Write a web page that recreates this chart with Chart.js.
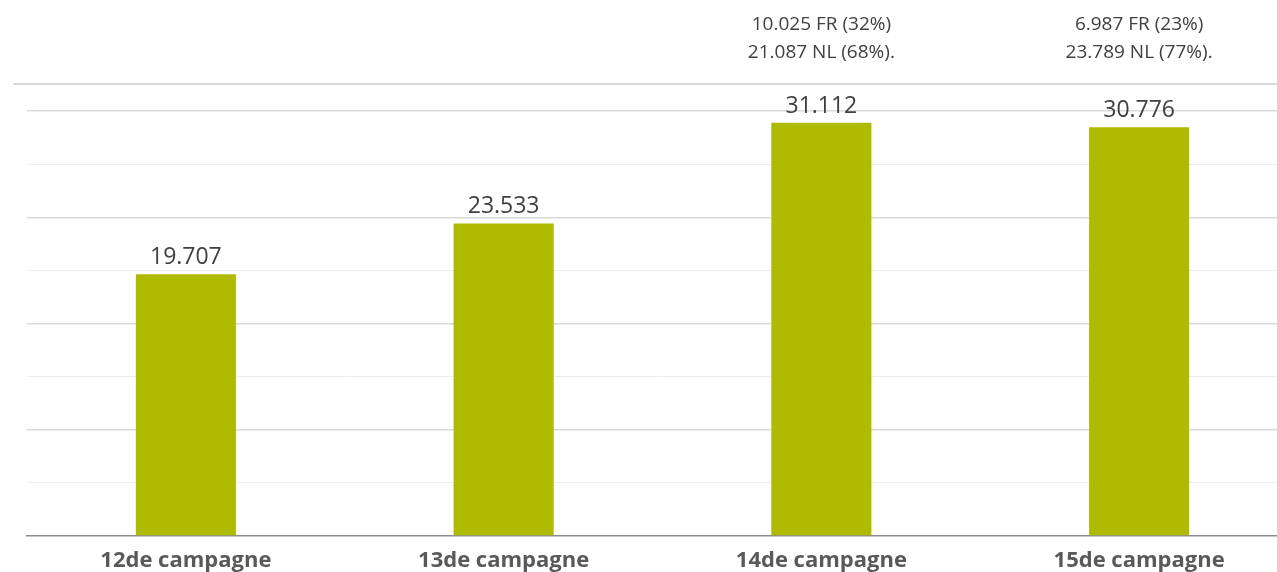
<!DOCTYPE html>
<html>
<head>
<meta charset="utf-8">
<script src="https://cdn.jsdelivr.net/npm/chart.js@4"></script>
<style>
    html, body { margin: 0; padding: 0; background: #fff; overflow: hidden; }
    #wrap { width: 1310px; height: 572px; position: relative; }
</style>
</head>
<body>
<div id="wrap"><canvas id="campagnes"></canvas></div>
<script>
/* Campagnes — deelnemers per campagne */
const categories = ['12de campagne', '13de campagne', '14de campagne', '15de campagne'];
const participants = [19707, 23533, 31112, 30776];
const splitFR = [null, null, '10.025 FR (32%)', '6.987 FR (23%)'];
const splitNL = [null, null, '21.087 NL (68%).', '23.789 NL (77%).'];
const yTicks = { min: 0, max: 32000, step: 4000 };

const colors = {
    bar: '#afbb00', label: '#404040', category: '#595959',
    gridMajor: '#d9d9d9', gridMinor: '#ededed', axis: '#8c8c8c'
};

// dots as thousands separator, like the source
const fmt = v => String(v).replace(/\B(?=(\d{3})+(?!\d))/g, '.');

const labelsPlugin = {
    id: 'labels',
    afterDatasetsDraw(chart) {
        const { ctx } = chart;
        const meta = chart.getDatasetMeta(0);
        ctx.save();
        // rule above the plot
        ctx.strokeStyle = colors.gridMajor;
        ctx.lineWidth = 2;
        ctx.beginPath();
        ctx.moveTo(13, 84);
        ctx.lineTo(chart.width, 84);
        ctx.stroke();

        ctx.textAlign = 'center';
        ctx.textBaseline = 'alphabetic';
        ctx.fillStyle = colors.label;
        meta.data.forEach((bar, i) => {
            ctx.font = '23px "Open Sans"';
            ctx.fillText(fmt(participants[i]), bar.x, bar.y - 10);
            ctx.font = '19px "Open Sans"';
            if (splitFR[i]) ctx.fillText(splitFR[i], bar.x, 30);
            if (splitNL[i]) ctx.fillText(splitNL[i], bar.x, 58);
        });
        ctx.restore();
    }
};

new Chart(document.getElementById('campagnes'), {
    type: 'bar',
    data: {
        labels: categories,
        datasets: [{
            data: participants,
            backgroundColor: colors.bar,
            borderWidth: 0,
            categoryPercentage: 1,
            barPercentage: 0.315
        }]
    },
    options: {
        responsive: true,
        maintainAspectRatio: false,
        animation: false,
        events: [],
        layout: { padding: { top: 111, left: 27, right: 12, bottom: 0 } },
        plugins: { legend: { display: false }, tooltip: { enabled: false } },
        scales: {
            x: {
                grid: { display: false },
                border: { color: colors.axis, width: 1.5 },
                ticks: {
                    color: colors.category,
                    font: { family: '"Open Sans"', size: 22, weight: 'bold' },
                    padding: 4,
                    maxRotation: 0
                },
                afterFit: s => { s.height = 36; }
            },
            y: {
                min: yTicks.min, max: yTicks.max,
                ticks: { display: false, stepSize: yTicks.step },
                border: { display: false },
                grid: {
                    drawTicks: false,
                    color: c => c.tick.value === 0 ? 'rgba(0,0,0,0)'
                        : (c.tick.value % 8000 === 0 ? colors.gridMajor : colors.gridMinor),
                    lineWidth: c => c.tick.value % 8000 === 0 ? 1.5 : 1
                },
                afterFit: s => { s.width = 0; }
            }
        }
    },
    plugins: [labelsPlugin]
});
</script>
</body>
</html>
